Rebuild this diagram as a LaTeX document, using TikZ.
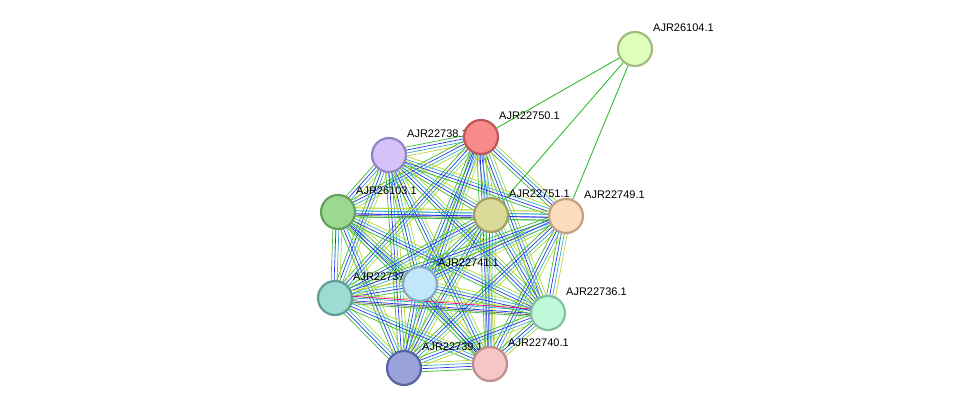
\documentclass[tikz,border=0pt]{standalone}
\usepackage{fontspec}
\setmainfont{Liberation Sans}
\usetikzlibrary{calc}
\definecolor{eg}{HTML}{33BB33}
\definecolor{eb}{HTML}{2233EE}
\definecolor{ec}{HTML}{33AACC}
\definecolor{ey}{HTML}{BBD633}
\tikzset{
  prot/.style={circle,minimum size=34pt,inner sep=0pt,line width=2.2pt},
  lab/.style={anchor=west,font=\fontsize{11}{12}\selectfont,inner sep=0pt}
}
\begin{document}
\begin{tikzpicture}[x=1pt,y=-1pt,line cap=round,line join=round]
  \useasboundingbox (0,0) rectangle (975,414);
  % positions
  \coordinate (n1) at (481,137);
  \coordinate (n2) at (389,155);
  \coordinate (n3) at (338,212);
  \coordinate (n4) at (491,215);
  \coordinate (n5) at (566,216);
  \coordinate (n6) at (335,298);
  \coordinate (n7) at (420,284);
  \coordinate (n8) at (548,313);
  \coordinate (n9) at (404,368);
  \coordinate (n10) at (490,364);
  \coordinate (n0) at (635,49);
  % edges
  \foreach \i in {1,...,9}{
    \pgfmathtruncatemacro\k{\i+1}
    \foreach \j in {\k,...,10}{
      \foreach \c/\o in {eg/-4.5pt,eb/-1.5pt,ec/1.5pt,ey/4.5pt}
        \draw[\c,line width=0.7pt] ($(n\i)!\o!90:(n\j)$) -- ($(n\j)!\o!-90:(n\i)$);
    }
  }
  \draw[black!60,line width=0.7pt] ($(n6)!-3pt!90:(n8)$) -- ($(n8)!-3pt!-90:(n6)$)
    ($(n3)!-3pt!90:(n4)$) -- ($(n4)!-3pt!-90:(n3)$);
  \draw[magenta,line width=0.7pt] ($(n6)!3pt!90:(n8)$) -- ($(n8)!3pt!-90:(n6)$);
  \foreach \j in {1,4,5}
    \draw[eg,line width=0.9pt] (n0) -- (n\j);
  % labels
  \foreach \n/\t in {n0/AJR26104.1,n1/AJR22750.1,n2/AJR22738.1,n3/AJR26103.1,
      n4/AJR22751.1,n5/AJR22749.1,n6/AJR22737.1,n7/AJR22741.1,n8/AJR22736.1,
      n9/AJR22739.1,n10/AJR22740.1}
    \node[lab] (l\n) at ($(\n)+(18,-21)$) {\t};
  % nodes
  \foreach \n/\f/\d in {n0/DDFFBB/A0BC80,n1/F88A8A/C05656,n2/D4C2F8/9484C4,
      n3/9CD890/64A25C,n4/DCDA98/A2A064,n5/FCDCBC/C0A282,n6/9CDCD2/5E9E96,
      n7/C2E6FA/84AAC2,n8/C0F8DA/84C29E,n9/9AA2DC/5A62A2,n10/F4C6C6/C08C8C}{
    \definecolor{f}{HTML}{\f}\definecolor{d}{HTML}{\d}
    \node[prot,fill=f,draw=d] (p\n) at (\n) {};
  }
\end{tikzpicture}
\end{document}
